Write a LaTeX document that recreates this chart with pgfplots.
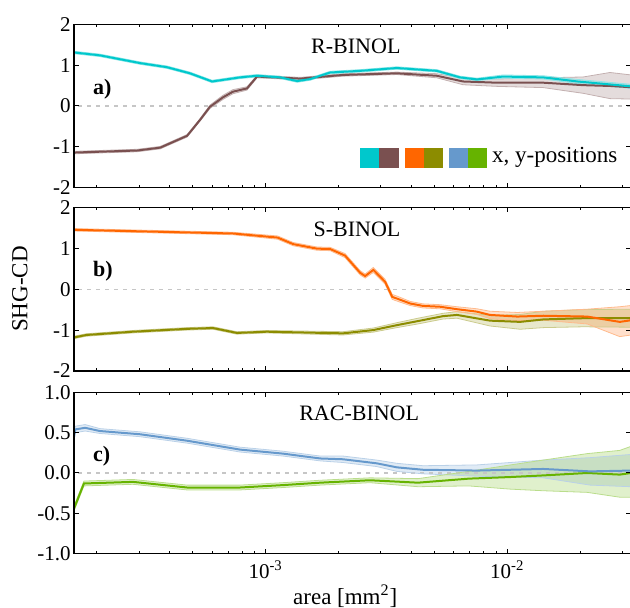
\documentclass[border=0pt]{standalone}
\usepackage{fontspec}
\setmainfont{Liberation Serif}
\usepackage{pgfplots}
\pgfplotsset{compat=1.18}
\usepackage{pgfplotstable}
\usepgfplotslibrary{fillbetween}

\definecolor{cR}{RGB}{0,200,204}
\definecolor{bR}{RGB}{122,80,80}
\definecolor{oS}{RGB}{255,102,0}
\definecolor{gS}{RGB}{140,140,0}
\definecolor{bC}{RGB}{102,153,204}
\definecolor{gC}{RGB}{102,179,0}

% x  y  lo  hi
\pgfplotstableread{
x y lo hi
1.61e-4 1.31 1.28 1.34
2.06e-4 1.24 1.21 1.27
3.02e-4 1.05 1.02 1.08
3.90e-4 0.95 0.92 0.98
4.86e-4 0.80 0.77 0.83
6.00e-4 0.60 0.57 0.63
7.83e-4 0.70 0.67 0.73
9.21e-4 0.74 0.71 0.77
1.15e-3 0.70 0.67 0.73
1.35e-3 0.61 0.58 0.64
1.53e-3 0.66 0.63 0.69
1.85e-3 0.82 0.79 0.85
2.46e-3 0.86 0.83 0.89
3.49e-3 0.93 0.90 0.96
5.11e-3 0.86 0.83 0.89
6.37e-3 0.70 0.67 0.73
7.49e-3 0.65 0.62 0.68
9.60e-3 0.72 0.68 0.76
1.41e-2 0.70 0.66 0.74
1.95e-2 0.60 0.55 0.65
2.42e-2 0.55 0.50 0.60
3.25e-2 0.48 0.43 0.53
}\tRx
\pgfplotstableread{
x y lo hi
1.61e-4 -1.14 -1.17 -1.11
2.94e-4 -1.09 -1.12 -1.06
3.66e-4 -1.02 -1.05 -0.99
4.73e-4 -0.73 -0.76 -0.70
5.35e-4 -0.34 -0.37 -0.31
5.88e-4 -0.02 -0.06 0.02
6.65e-4 0.21 0.16 0.26
7.32e-4 0.35 0.30 0.40
8.37e-4 0.43 0.39 0.47
9.21e-4 0.72 0.69 0.75
1.39e-3 0.67 0.64 0.70
2.09e-3 0.76 0.73 0.79
3.49e-3 0.80 0.77 0.83
5.11e-3 0.74 0.69 0.79
6.56e-3 0.60 0.52 0.68
9.07e-3 0.57 0.48 0.66
1.41e-2 0.57 0.45 0.69
2.06e-2 0.51 0.31 0.71
2.66e-2 0.49 0.18 0.82
3.25e-2 0.46 0.17 0.76
}\tRy
\pgfplotstableread{
x y lo hi
1.61e-4 1.45 1.42 1.48
7.32e-4 1.36 1.33 1.39
1.12e-3 1.26 1.22 1.30
1.30e-3 1.10 1.06 1.14
1.63e-3 0.99 0.95 1.03
1.85e-3 0.98 0.94 1.02
2.13e-3 0.82 0.77 0.87
2.46e-3 0.40 0.35 0.45
2.58e-3 0.32 0.27 0.37
2.79e-3 0.47 0.41 0.53
3.12e-3 0.18 0.12 0.24
3.34e-3 -0.19 -0.25 -0.13
3.53e-3 -0.24 -0.30 -0.18
3.96e-3 -0.35 -0.40 -0.30
4.48e-3 -0.41 -0.46 -0.36
5.27e-3 -0.43 -0.48 -0.38
6.19e-3 -0.49 -0.55 -0.43
7.49e-3 -0.55 -0.62 -0.48
8.48e-3 -0.63 -0.72 -0.54
1.10e-2 -0.67 -0.77 -0.57
1.41e-2 -0.65 -0.76 -0.54
2.14e-2 -0.67 -0.85 -0.49
2.92e-2 -0.80 -1.16 -0.43
3.25e-2 -0.76 -1.12 -0.40
}\tSx
\pgfplotstableread{
x y lo hi
1.61e-4 -1.18 -1.21 -1.15
1.81e-4 -1.12 -1.15 -1.09
2.82e-4 -1.04 -1.07 -1.01
4.73e-4 -0.97 -1.00 -0.94
6.05e-4 -0.95 -0.98 -0.92
7.60e-4 -1.07 -1.10 -1.04
1.01e-3 -1.04 -1.07 -1.01
2.09e-3 -1.08 -1.12 -1.04
2.79e-3 -1.00 -1.05 -0.95
3.49e-3 -0.88 -0.94 -0.82
4.27e-3 -0.78 -0.85 -0.71
5.42e-3 -0.66 -0.73 -0.59
6.19e-3 -0.63 -0.71 -0.55
8.48e-3 -0.77 -0.90 -0.64
1.13e-2 -0.80 -0.98 -0.62
1.41e-2 -0.74 -0.94 -0.54
2.06e-2 -0.71 -0.92 -0.50
3.25e-2 -0.71 -0.93 -0.49
}\tSy
\pgfplotstableread{
x y lo hi
1.61e-4 0.45 0.40 0.50
1.63e-4 0.54 0.50 0.58
1.79e-4 0.56 0.52 0.60
2.06e-4 0.52 0.49 0.55
3.02e-4 0.48 0.45 0.51
4.73e-4 0.40 0.37 0.43
7.83e-4 0.29 0.26 0.32
1.18e-3 0.24 0.21 0.27
1.68e-3 0.18 0.15 0.21
2.09e-3 0.17 0.13 0.21
2.88e-3 0.12 0.08 0.16
3.49e-3 0.07 0.02 0.12
4.48e-3 0.04 -0.01 0.09
7.49e-3 0.03 -0.04 0.10
1.41e-2 0.05 -0.06 0.16
2.20e-2 0.02 -0.15 0.19
3.25e-2 0.03 -0.17 0.23
}\tCx
\pgfplotstableread{
x y lo hi
1.61e-4 -0.44 -0.47 -0.41
1.77e-4 -0.13 -0.16 -0.10
2.82e-4 -0.11 -0.14 -0.08
4.73e-4 -0.18 -0.21 -0.15
7.83e-4 -0.18 -0.21 -0.15
1.18e-3 -0.15 -0.18 -0.12
1.68e-3 -0.12 -0.15 -0.09
2.70e-3 -0.09 -0.12 -0.06
4.27e-3 -0.12 -0.17 -0.07
6.92e-3 -0.07 -0.16 0.02
1.03e-2 -0.05 -0.20 0.10
1.41e-2 -0.03 -0.22 0.16
2.14e-2 0.00 -0.24 0.24
2.92e-2 -0.02 -0.30 0.28
3.25e-2 0.00 -0.30 0.33
}\tCy

\newcommand{\band}[3]{%
  \addplot[name path=#3u, draw=#2!45, line width=0.4pt] table[x=x,y=hi]{#1};
  \addplot[name path=#3l, draw=#2!45, line width=0.4pt] table[x=x,y=lo]{#1};
  \addplot[fill=#2, fill opacity=0.2, draw=none] fill between[of=#3u and #3l];}
\newcommand{\curve}[2]{\addplot[#2, line width=1pt] table[x=x,y=y]{#1};}

\pgfplotsset{
  every axis/.append style={
    scale only axis, width=278.5pt,
    major tick length=2.5pt, minor tick length=1.5pt,
    tick style={black, line width=0.5pt},
    axis line style={black, line width=0.7pt},
    tick label style={font=\fontsize{10.5}{12}\selectfont},
    yticklabel style={inner sep=1.5pt},
  },
}
\tikzset{
  paneltitle/.style={font=\fontsize{11}{13}\selectfont, anchor=center},
  panellabel/.style={font=\fontsize{11}{13}\selectfont\bfseries, anchor=west},
}

\begin{document}
\begin{tikzpicture}

% panel a
\begin{axis}[xmode=log, xmin=1.61e-4, xmax=3.25e-2, xtick={1e-3,1e-2},
  minor xtick={2e-4,3e-4,4e-4,5e-4,6e-4,7e-4,8e-4,9e-4,2e-3,3e-3,4e-3,5e-3,6e-3,7e-3,8e-3,9e-3,2e-2,3e-2},
  at={(0pt,183pt)}, height=81.7pt,
  ymin=-2, ymax=2, ytick={-2,-1,0,1,2}, yticklabels={-2,-1,0,1,2},
  xticklabels={}, axis on top]
  \addplot[gray!45, dash pattern=on 2pt off 2.5pt, line width=0.6pt] coordinates {(1e-4,0) (1e-1,0)};
  \band{\tRy}{bR}{ay}
  \band{\tRx}{cR}{ax}
  \curve{\tRy}{bR}
  \curve{\tRx}{cR}
  \node[paneltitle] at (rel axis cs:0.506,0.865) {R-BINOL};
  \node[panellabel] at (rel axis cs:0.0215,0.604) {a)};
  \fill[cR] (rel axis cs:0.5135,0.1224) rectangle (rel axis cs:0.5476,0.2448);
  \fill[bR] (rel axis cs:0.5476,0.1224) rectangle (rel axis cs:0.5835,0.2448);
  \fill[oS] (rel axis cs:0.5943,0.1224) rectangle (rel axis cs:0.6284,0.2448);
  \fill[gS] (rel axis cs:0.6284,0.1224) rectangle (rel axis cs:0.6625,0.2448);
  \fill[bC] (rel axis cs:0.6732,0.1224) rectangle (rel axis cs:0.7074,0.2448);
  \fill[gC] (rel axis cs:0.7074,0.1224) rectangle (rel axis cs:0.7415,0.2448);
  \node[font=\fontsize{11.5}{13}\selectfont, anchor=west, inner sep=0pt]
    at (rel axis cs:0.7500,0.1836) {x, y-positions};
\end{axis}

% panel b
\begin{axis}[xmode=log, xmin=1.61e-4, xmax=3.25e-2, xtick={1e-3,1e-2},
  minor xtick={2e-4,3e-4,4e-4,5e-4,6e-4,7e-4,8e-4,9e-4,2e-3,3e-3,4e-3,5e-3,6e-3,7e-3,8e-3,9e-3,2e-2,3e-2},
  at={(0pt,91.35pt)}, height=81.85pt,
  ymin=-2, ymax=2, ytick={-2,-1,0,1,2}, yticklabels={-2,-1,0,1,2},
  xticklabels={}, axis on top,
  ylabel={SHG-CD},
  ylabel style={font=\fontsize{11.5}{13}\selectfont, at={(axis description cs:-0.097,0.5)}, anchor=center}]
  \addplot[gray!45, dash pattern=on 2pt off 2.5pt, line width=0.6pt] coordinates {(1e-4,0) (1e-1,0)};
  \band{\tSy}{gS}{by}
  \band{\tSx}{oS}{bx}
  \curve{\tSy}{gS}
  \curve{\tSx}{oS}
  \node[paneltitle] at (rel axis cs:0.508,0.865) {S-BINOL};
  \node[panellabel] at (rel axis cs:0.0215,0.611) {b)};
\end{axis}

% panel c
\begin{axis}[xmode=log, xmin=1.61e-4, xmax=3.25e-2, xtick={1e-3,1e-2},
  minor xtick={2e-4,3e-4,4e-4,5e-4,6e-4,7e-4,8e-4,9e-4,2e-3,3e-3,4e-3,5e-3,6e-3,7e-3,8e-3,9e-3,2e-2,3e-2},
  at={(0pt,0pt)}, height=80.7pt,
  ymin=-1, ymax=1, ytick={-1,-0.5,0,0.5,1},
  yticklabels={-1.0,-0.5,0.0,0.5,1.0}, axis on top,
  xticklabels={10\textsuperscript{-3},10\textsuperscript{-2}},
  xlabel={area [mm\textsuperscript{2}]},
  xlabel style={font=\fontsize{11.5}{13}\selectfont, at={(axis description cs:0.487,0)}, anchor=base, yshift=-25.5pt}]
  \addplot[gray!45, dash pattern=on 2pt off 2.5pt, line width=0.6pt] coordinates {(1e-4,0) (1e-1,0)};
  \band{\tCx}{bC}{cx}
  \band{\tCy}{gC}{cy}
  \curve{\tCy}{gC}
  \curve{\tCx}{bC}
  \node[paneltitle] at (rel axis cs:0.512,0.870) {RAC-BINOL};
  \node[panellabel] at (rel axis cs:0.0215,0.605) {c)};
\end{axis}

\pgfresetboundingbox
\path[use as bounding box] (-37pt,-27.15pt) rectangle (278pt,276.85pt);
\end{tikzpicture}
\end{document}
